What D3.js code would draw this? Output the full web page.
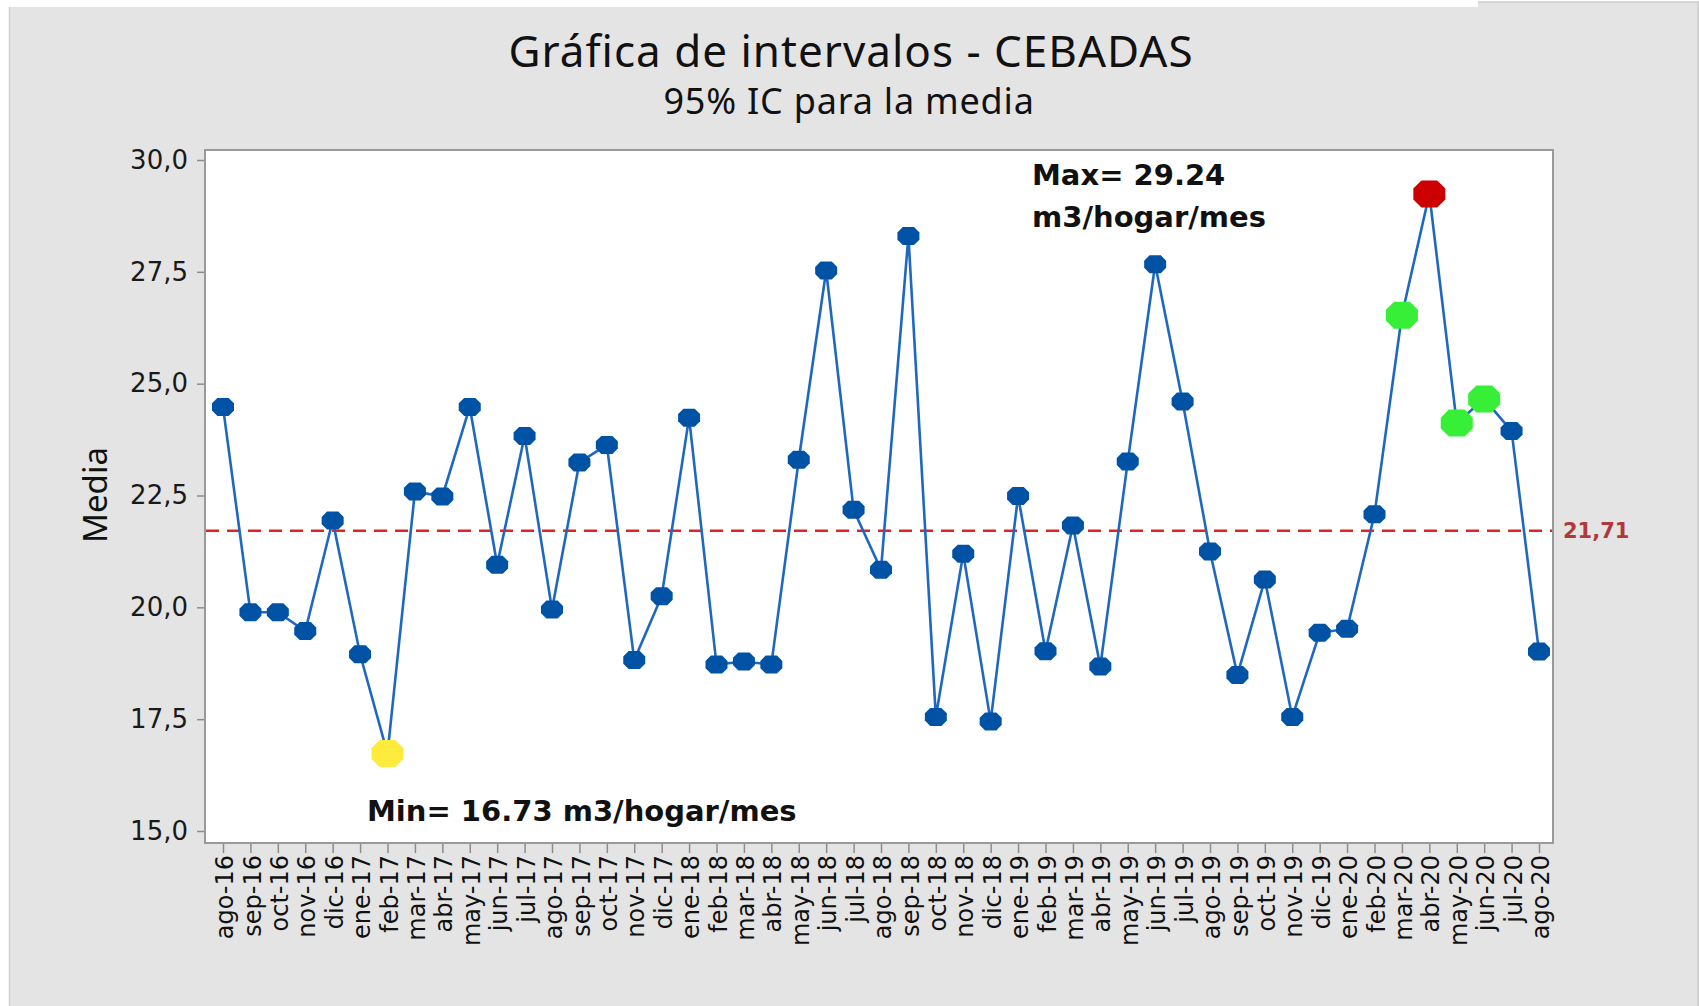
<!DOCTYPE html>
<html>
<head>
<meta charset="utf-8">
<script src="https://cdn.jsdelivr.net/npm/d3@7"></script>
<style>
  html, body { margin: 0; padding: 0; background: #ffffff; }
  svg { display: block; }
</style>
</head>
<body>
<script>
'use strict';

// months on the x axis
const months = [
  "ago-16", "sep-16", "oct-16", "nov-16", "dic-16",
  "ene-17", "feb-17", "mar-17", "abr-17", "may-17", "jun-17", "jul-17", "ago-17", "sep-17", "oct-17", "nov-17", "dic-17",
  "ene-18", "feb-18", "mar-18", "abr-18", "may-18", "jun-18", "jul-18", "ago-18", "sep-18", "oct-18", "nov-18", "dic-18",
  "ene-19", "feb-19", "mar-19", "abr-19", "may-19", "jun-19", "jul-19", "ago-19", "sep-19", "oct-19", "nov-19", "dic-19",
  "ene-20", "feb-20", "mar-20", "abr-20", "may-20", "jun-20", "jul-20", "ago-20"
];

// media mensual (m3/hogar/mes)
const means = [
  24.48, 19.89, 19.89, 19.47, 21.94,
  18.95, 16.73, 22.59, 22.48, 24.48, 20.95, 23.83, 19.95, 23.24, 23.63, 18.82, 20.25,
  24.24, 18.72, 18.79, 18.72, 23.30, 27.53, 22.18, 20.84, 28.30, 17.55, 21.20, 17.45,
  22.49, 19.02, 21.83, 18.68, 23.26, 27.67, 24.60, 21.25, 18.49, 20.62, 17.55, 19.43,
  19.52, 22.08, 26.53, 29.24, 24.12, 24.66, 23.94, 19.01
];

// highlighted points
const minMonths = ["feb-17"];
const maxMonths = ["abr-20"];
const greenMonths = ["mar-20", "may-20", "jun-20"];

const overallMean = 21.71;
const yTicks = [15, 17.5, 20, 22.5, 25, 27.5, 30];

(function () {
  const width = 1699, height = 1006;
  const plot = { left: 205, right: 1553, top: 150, bottom: 843 };

  const svg = d3.select('body')
    .append('svg')
    .attr('width', width)
    .attr('height', height);

  // grey page with the thin white strips of the screenshot
  svg.append('rect').attr('x', 9).attr('y', 7).attr('width', width - 9).attr('height', height - 7).attr('fill', '#e4e4e4');
  svg.append('rect').attr('x', 1478).attr('y', 2).attr('width', width - 1478).attr('height', 6).attr('fill', '#e4e4e4');
  svg.append('line').attr('x1', 9.5).attr('x2', 9.5).attr('y1', 7).attr('y2', height).attr('stroke', '#d0d0d0').attr('stroke-width', 1.5);
  svg.append('line').attr('x1', 1478).attr('x2', width).attr('y1', 2).attr('y2', 2).attr('stroke', '#cccccc').attr('stroke-width', 1.5);
  svg.append('line').attr('x1', width - 1).attr('x2', width - 1).attr('y1', 2).attr('y2', height).attr('stroke', '#cccccc').attr('stroke-width', 1.5);

  // plot area
  svg.append('rect')
    .attr('x', plot.left).attr('y', plot.top)
    .attr('width', plot.right - plot.left).attr('height', plot.bottom - plot.top)
    .attr('fill', '#ffffff');

  // scales
  const xScale = d3.scalePoint().domain(months).range([223, 1539]);
  const yScale = d3.scaleLinear().domain([15, 30]).range([831, 160]);

  // y axis
  const yAxis = d3.axisLeft(yScale)
    .tickValues(yTicks)
    .tickSize(8)
    .tickPadding(9)
    .tickFormat(d => d3.format('.1f')(d).replace('.', ','));
  const gy = svg.append('g')
    .attr('transform', 'translate(' + plot.left + ',0)')
    .call(yAxis);
  gy.select('.domain').remove();
  gy.selectAll('line').attr('stroke', '#8c8c8c').attr('stroke-width', 1.5);
  gy.selectAll('text')
    .style('font-family', '"DejaVu Sans", sans-serif')
    .style('font-size', '26px')
    .attr('fill', '#1a1a1a');

  // x axis with vertical labels
  const xAxis = d3.axisBottom(xScale).tickSize(10).tickSizeOuter(0);
  const gx = svg.append('g')
    .attr('transform', 'translate(0,' + plot.bottom + ')')
    .call(xAxis);
  gx.select('.domain').remove();
  gx.selectAll('line').attr('stroke', '#8c8c8c').attr('stroke-width', 1.5);
  gx.selectAll('text')
    .attr('transform', 'rotate(-90)')
    .attr('x', -12)
    .attr('y', 0)
    .attr('dy', '0.4em')
    .attr('text-anchor', 'end')
    .style('font-family', '"DejaVu Sans", sans-serif')
    .style('font-size', '24px')
    .attr('fill', '#111111');

  // frame
  svg.append('rect')
    .attr('x', plot.left).attr('y', plot.top)
    .attr('width', plot.right - plot.left).attr('height', plot.bottom - plot.top)
    .attr('fill', 'none')
    .attr('stroke', '#9a9a9a')
    .attr('stroke-width', 2);

  // reference line at the overall mean
  svg.append('line')
    .attr('x1', plot.left + 1).attr('x2', plot.right - 1)
    .attr('y1', yScale(overallMean)).attr('y2', yScale(overallMean))
    .attr('stroke', '#e02424')
    .attr('stroke-width', 2.5)
    .attr('stroke-dasharray', '13,8');

  svg.append('text')
    .attr('x', plot.right + 10)
    .attr('y', yScale(overallMean))
    .attr('dy', '0.36em')
    .style('font-family', '"DejaVu Sans", sans-serif')
    .style('font-size', '21px')
    .style('font-weight', 'bold')
    .attr('fill', '#b0383b')
    .text(d3.format('.2f')(overallMean).replace('.', ','));

  // data line
  const rows = months.map((m, i) => ({ month: m, value: means[i] }));
  const line = d3.line()
    .x(d => xScale(d.month))
    .y(d => yScale(d.value));
  svg.append('path')
    .datum(rows)
    .attr('fill', 'none')
    .attr('stroke', '#1e68c2')
    .attr('stroke-width', 2.6)
    .attr('d', line);

  // octagon marker centred on 0,0
  function octagon(w, h) {
    const c = Math.min(w, h) * 0.3;
    const pts = [
      [-w / 2 + c, -h / 2], [w / 2 - c, -h / 2], [w / 2, -h / 2 + c], [w / 2, h / 2 - c],
      [w / 2 - c, h / 2], [-w / 2 + c, h / 2], [-w / 2, h / 2 - c], [-w / 2, -h / 2 + c]
    ];
    return d3.line()(pts) + 'Z';
  }

  function markerColor(m) {
    if (minMonths.includes(m)) return '#ffeb3b';
    if (maxMonths.includes(m)) return '#cc0000';
    if (greenMonths.includes(m)) return '#38ef38';
    return '#0052a5';
  }
  function isBig(m) {
    return minMonths.includes(m) || maxMonths.includes(m) || greenMonths.includes(m);
  }

  svg.selectAll('.dot')
    .data(rows)
    .enter()
    .append('path')
    .attr('class', 'dot')
    .attr('transform', d => 'translate(' + xScale(d.month) + ',' + yScale(d.value) + ')')
    .attr('d', d => isBig(d.month) ? octagon(32, 27) : octagon(22, 18))
    .attr('fill', d => markerColor(d.month));

  // titles
  svg.append('text')
    .attr('x', 851).attr('y', 67)
    .attr('text-anchor', 'middle')
    .style('font-family', '"Noto Sans", sans-serif')
    .style('font-size', '44px')
    .style('letter-spacing', '1px')
    .attr('fill', '#111111')
    .text('Gráfica de intervalos - CEBADAS');

  svg.append('text')
    .attr('x', 849).attr('y', 114)
    .attr('text-anchor', 'middle')
    .style('font-family', '"Noto Sans", sans-serif')
    .style('font-size', '36px')
    .style('letter-spacing', '0.8px')
    .attr('fill', '#111111')
    .text('95% IC para la media');

  svg.append('text')
    .attr('transform', 'translate(107,495)rotate(-90)')
    .attr('text-anchor', 'middle')
    .style('font-family', '"Noto Sans", sans-serif')
    .style('font-size', '33px')
    .attr('fill', '#111111')
    .text('Media');

  // annotations
  const maxVal = d3.max(means), minVal = d3.min(means);
  const note = svg.append('g')
    .style('font-family', '"DejaVu Sans", sans-serif')
    .style('font-size', '29px')
    .style('font-weight', 'bold')
    .attr('fill', '#111111');
  note.append('text').attr('x', 1032).attr('y', 185).text('Max= ' + d3.format('.2f')(maxVal));
  note.append('text').attr('x', 1032).attr('y', 227).text('m3/hogar/mes');
  note.append('text').attr('x', 367).attr('y', 821).text('Min= ' + d3.format('.2f')(minVal) + ' m3/hogar/mes');
})();
</script>
</body>
</html>
